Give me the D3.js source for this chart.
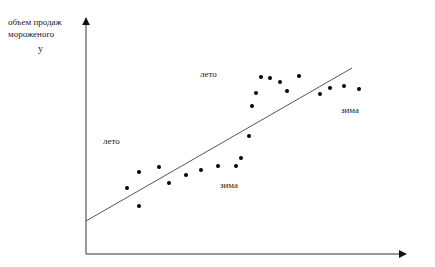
<!DOCTYPE html>
<html>
<head>
<meta charset="utf-8">
<script src="https://cdn.jsdelivr.net/npm/d3@7"></script>
<style>
  body { margin: 0; background: white; }
  text { font-family: "Liberation Serif", "DejaVu Serif", serif; font-size: 9px; fill: #222; }
</style>
</head>
<body>
<div class="chart"></div>
<script>
const w = 435;
const h = 267;

// sales points (x = time, y = ice cream sales), in chart units
const xs = [41, 53, 53, 73, 83, 100, 115, 132, 150, 155, 163, 166, 170, 175, 184, 194, 201, 213, 234, 244, 258, 273];
const ys = [66, 82, 48, 87, 71, 79, 84, 88, 88, 96, 118, 148, 161, 177, 176, 172, 163, 178, 160, 166, 168, 165];

// trend line ends
const trendX = [0, 266];
const trendY = [33, 186];

// annotations
const labelText = ["лето", "лето", "зима", "зима"];
const labelX = [17, 114, 134, 255];
const labelY = [110, 177, 66, 141];

const x = d3.scaleLinear().domain([0, 320]).range([86, 406]);
const y = d3.scaleLinear().domain([0, 236]).range([254, 18]);

const svg = d3.select(".chart")
  .append("svg")
  .attr("width", w)
  .attr("height", h)
  .style("background-color", "white");

svg.append("defs").append("marker")
  .attr("id", "arrow")
  .attr("viewBox", "0 0 10 10")
  .attr("refX", 9)
  .attr("refY", 5)
  .attr("markerWidth", 8)
  .attr("markerHeight", 8)
  .attr("markerUnits", "userSpaceOnUse")
  .attr("orient", "auto")
  .append("path")
  .attr("d", "M0,0 L10,5 L0,10 Z")
  .attr("fill", "#111");

// axes
svg.append("line")
  .attr("x1", x(0)).attr("y1", y(0))
  .attr("x2", x(0)).attr("y2", y(236))
  .attr("stroke", "#333").attr("stroke-width", 1)
  .attr("marker-end", "url(#arrow)");

svg.append("line")
  .attr("x1", x(0)).attr("y1", y(0))
  .attr("x2", x(320)).attr("y2", y(0))
  .attr("stroke", "#333").attr("stroke-width", 1)
  .attr("marker-end", "url(#arrow)");

// trend
svg.append("line")
  .attr("x1", x(trendX[0])).attr("y1", y(trendY[0]))
  .attr("x2", x(trendX[1])).attr("y2", y(trendY[1]))
  .attr("stroke", "#555").attr("stroke-width", 1);

svg.selectAll("circle")
  .data(xs)
  .enter()
  .append("circle")
  .attr("cx", function(d){ return x(d); })
  .attr("cy", function(d, i){ return y(ys[i]); })
  .attr("r", 2)
  .attr("fill", "#000");

svg.selectAll("text.season")
  .data(labelText)
  .enter()
  .append("text")
  .attr("class", "season")
  .attr("x", function(d, i){ return x(labelX[i]); })
  .attr("y", function(d, i){ return y(labelY[i]); })
  .text(function(d){ return d; });

// y axis title
svg.append("text").attr("x", 8).attr("y", 25).text("объем продаж");
svg.append("text").attr("x", 8).attr("y", 37).text("мороженого");
svg.append("text").attr("x", 38).attr("y", 52).style("font-size", "10px").text("у");
</script>
</body>
</html>
